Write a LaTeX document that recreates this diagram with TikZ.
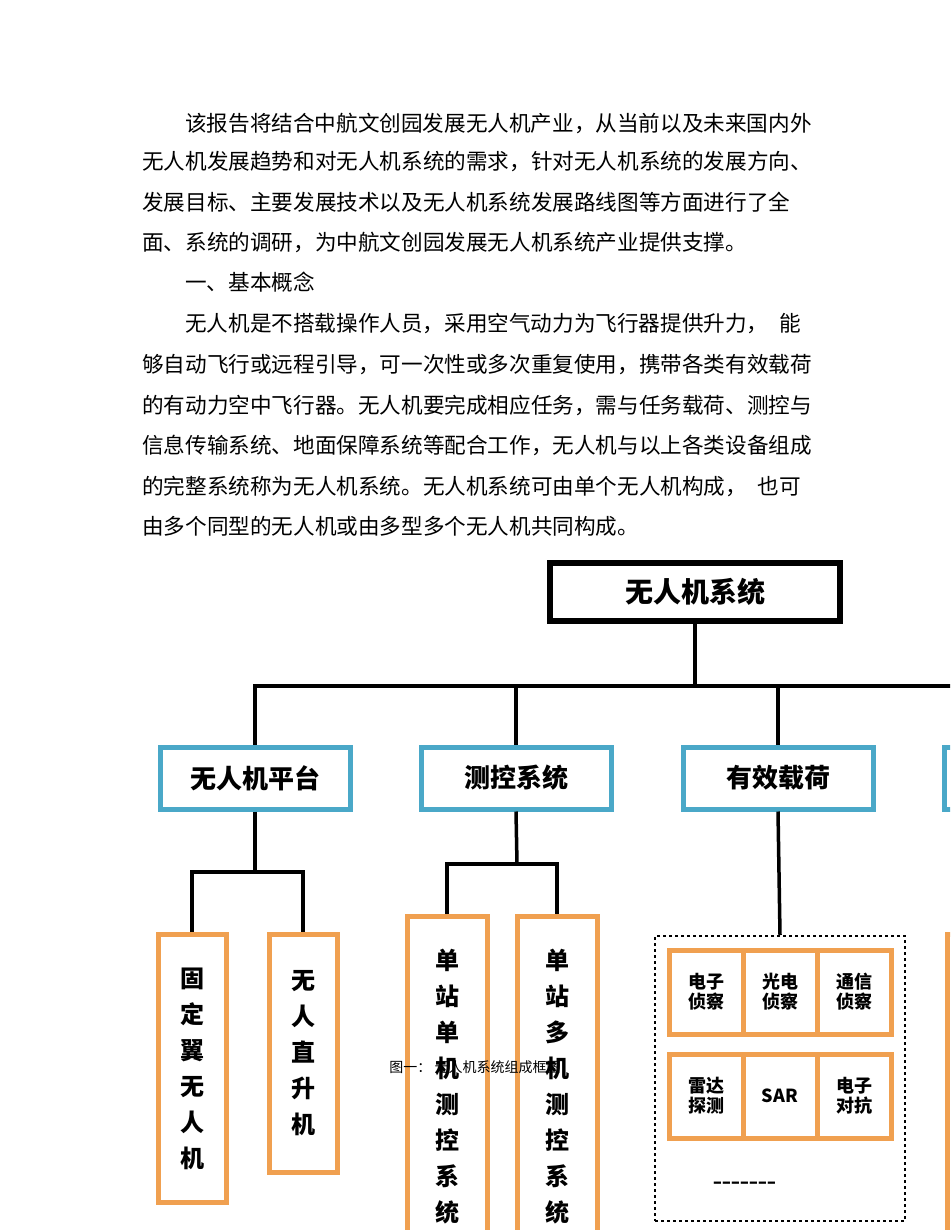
\documentclass[tikz,border=0pt]{standalone}
\usepackage{fontspec}
\newfontfamily\cjk{Noto Sans CJK SC}
\definecolor{teal1}{RGB}{74,168,200}
\definecolor{orng}{RGB}{240,160,80}
\begin{document}
\begin{tikzpicture}[x=1pt,y=-1pt,
 body/.style={anchor=west,inner sep=0,font=\cjk\fontsize{21.6}{21.6}\selectfont},
 tbox/.style={draw=teal1,line width=5pt,minimum width=190,minimum height=62,font=\cjk\bfseries\fontsize{26}{26}\selectfont},
 obox/.style={draw=orng,line width=5pt,font=\cjk\bfseries\fontsize{24}{24}\selectfont,align=center},
 cell/.style={draw=orng,line width=5pt,minimum width=74,minimum height=84,font=\cjk\bfseries\fontsize{18}{20}\selectfont,align=center},
 ln/.style={line width=3.5pt}]
\useasboundingbox (0,0) rectangle (950,1230);
\clip (0,0) rectangle (950,1230);
\node[body] (p1) at (185,123) {该报告将结合中航文创园发展无人机产业，从当前以及未来国内外};
\node[body] (p2) at (142,162) {无人机发展趋势和对无人机系统的需求，针对无人机系统的发展方向、};
\node[body] (p3) at (142,202) {发展目标、主要发展技术以及无人机系统发展路线图等方面进行了全};
\node[body] (p4) at (142,242) {面、系统的调研，为中航文创园发展无人机系统产业提供支撑。};
\node[body] (p5) at (185,282) {一、基本概念};
\node[body] (p6) at (185,324) {无人机是不搭载操作人员，采用空气动力为飞行器提供升力，\enspace 能};
\node[body] (p7) at (142,364) {够自动飞行或远程引导，可一次性或多次重复使用，携带各类有效载荷};
\node[body] (p8) at (142,405) {的有动力空中飞行器。无人机要完成相应任务，需与任务载荷、测控与};
\node[body] (p9) at (142,445) {信息传输系统、地面保障系统等配合工作，无人机与以上各类设备组成};
\node[body] (p10) at (142,486) {的完整系统称为无人机系统。无人机系统可由单个无人机构成，\enspace 也可};
\node[body] (p11) at (142,526) {由多个同型的无人机或由多型多个无人机共同构成。};

\node[draw,line width=6pt,minimum width=290,minimum height=58,font=\cjk\bfseries\fontsize{28}{28}\selectfont] (top) at (695,592) {无人机系统};
\node[tbox] (a) at (255,778) {无人机平台};
\node[tbox] (b) at (516,778) {测控系统};
\node[tbox] (c) at (778,778) {有效载荷};
\node[tbox,anchor=west] (d) at (942,778) {};
\coordinate (h) at (695,686);
\draw[ln] (top.south) -- (h);
\draw[ln] (a.north) |- (h) -| (c.north);
\draw[ln] (b.north) -- (b.north|-h);
\draw[ln] (h) -- (960,686);
\draw[ln] (d.north) -- (d.north|-h);

\node[obox,minimum width=68,minimum height=268,anchor=north] (a1) at (192,932) {固\\[12pt]定\\[12pt]翼\\[12pt]无\\[12pt]人\\[12pt]机};
\node[obox,minimum width=68,minimum height=238,anchor=north] (a2) at (303,932) {无\\[12pt]人\\[12pt]直\\[12pt]升\\[12pt]机};
\coordinate (ja) at (255,872);
\draw[ln] (a.south) -- (ja);
\draw[ln] (a1.north) |- (ja) -| (a2.north);

\node[obox,minimum width=80,minimum height=340,anchor=north] (b1) at (447,914) {单\\[12pt]站\\[12pt]单\\[12pt]机\\[12pt]测\\[12pt]控\\[12pt]系\\[12pt]统};
\node[obox,minimum width=80,minimum height=340,anchor=north] (b2) at (557,914) {单\\[12pt]站\\[12pt]多\\[12pt]机\\[12pt]测\\[12pt]控\\[12pt]系\\[12pt]统};
\coordinate (jb) at (517,864);
\draw[ln] (b.south) -- (jb);
\draw[ln] (b1.north) |- (jb) -| (b2.north);

\node[draw,dashed,line width=2pt,minimum width=250,minimum height=285,anchor=north] (dbox) at (780,935) {};
\draw[ln] (c.south) -- (dbox.north);
\node[cell] (c1) at (706,992) {电子\\侦察};
\node[cell] (c2) at (780,992) {光电\\侦察};
\node[cell] (c3) at (854,992) {通信\\侦察};
\node[cell] (c4) at (706,1096) {雷达\\探测};
\node[cell] (c5) at (780,1096) {SAR};
\node[cell] (c6) at (854,1096) {电子\\对抗};
\node[font=\bfseries\fontsize{24}{24}\selectfont] (dots) at (745,1185) {{-}{-}{-}{-}{-}{-}{-}};
\node[draw=orng,line width=5pt,minimum width=20,minimum height=300,anchor=north west] (c7) at (945,932) {};

\node[font=\cjk\fontsize{14}{14}\selectfont,inner sep=0] (cap) at (475,1067) {图一：\ 无人机系统组成框图};
\end{tikzpicture}
\end{document}
